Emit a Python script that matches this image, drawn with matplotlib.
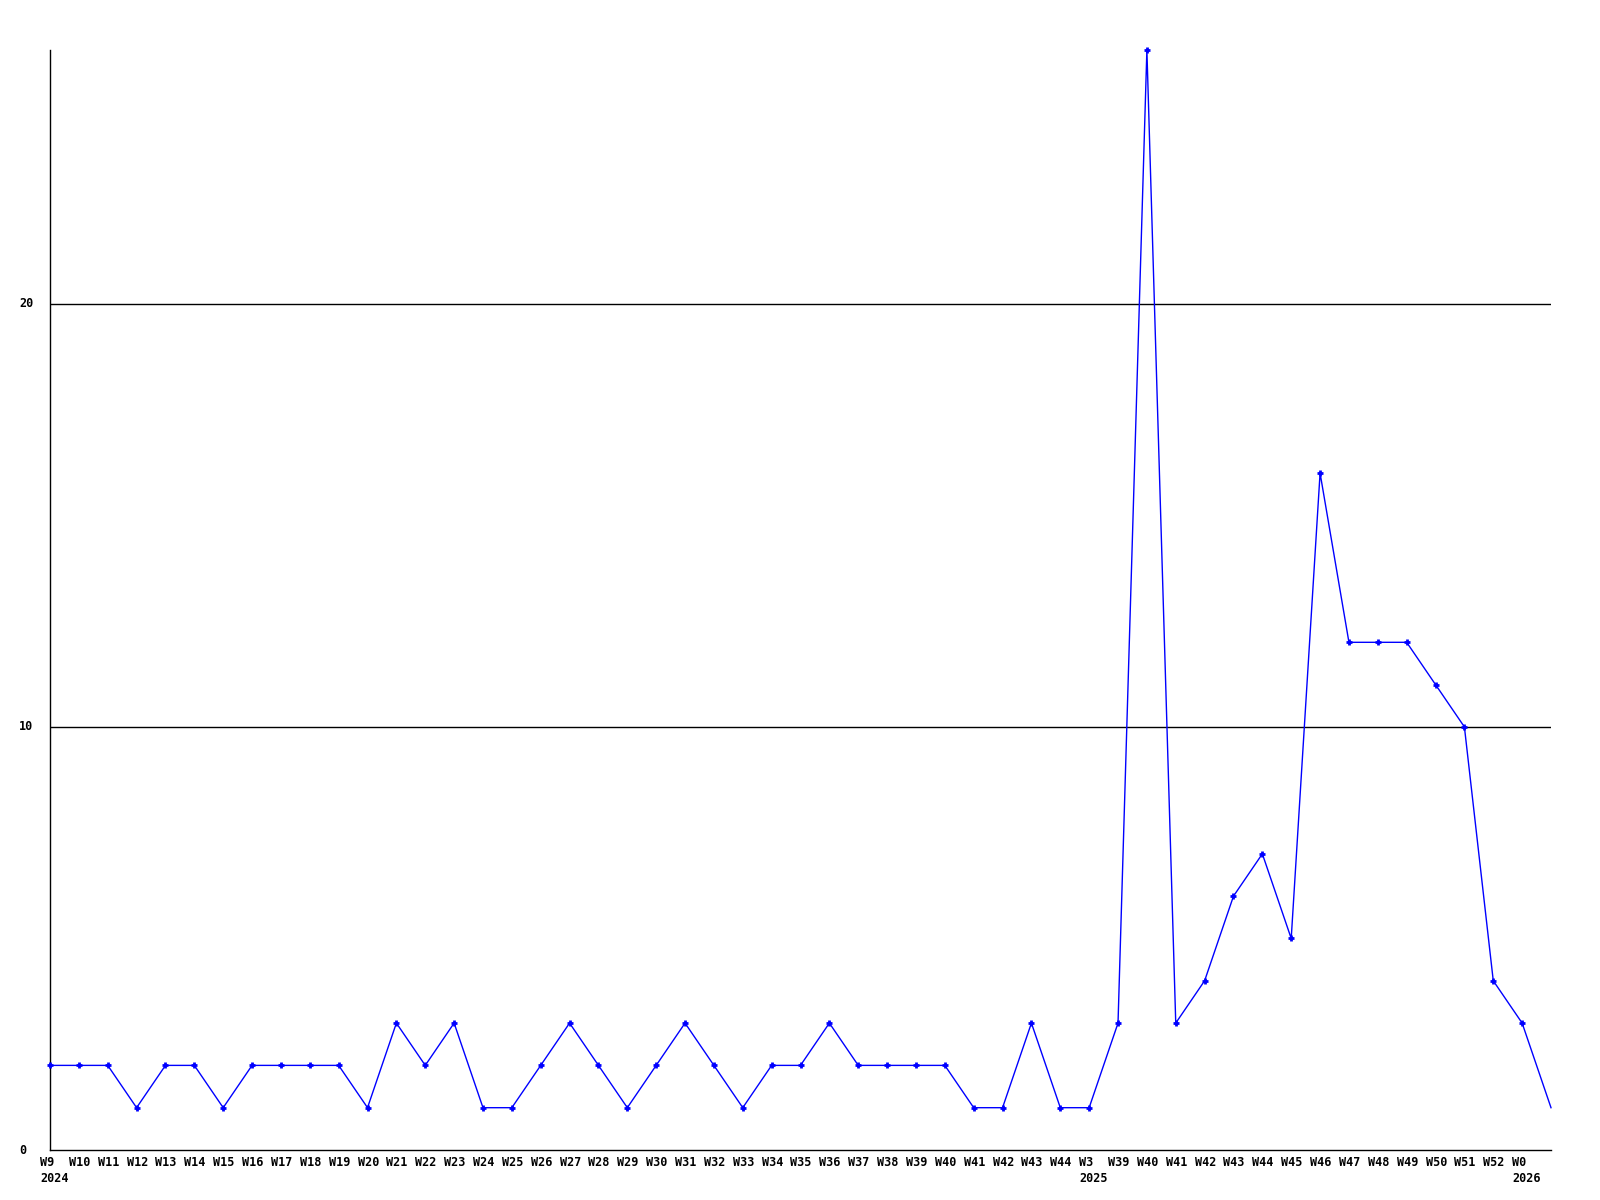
import matplotlib
matplotlib.use("Agg")
import matplotlib.pyplot as plt
import matplotlib.transforms as mtransforms

labels = ["W9", "W10", "W11", "W12", "W13", "W14", "W15", "W16", "W17", "W18",
          "W19", "W20", "W21", "W22", "W23", "W24", "W25", "W26", "W27", "W28",
          "W29", "W30", "W31", "W32", "W33", "W34", "W35", "W36", "W37", "W38",
          "W39", "W40", "W41", "W42", "W43", "W44", "W3", "W39", "W40", "W41",
          "W42", "W43", "W44", "W45", "W46", "W47", "W48", "W49", "W50", "W51",
          "W52", "W0", ""]
years = {0: "2024", 36: "2025", 51: "2026"}
values = [2, 2, 2, 1, 2, 2, 1, 2, 2, 2,
          2, 1, 3, 2, 3, 1, 1, 2, 3, 2,
          1, 2, 3, 2, 1, 2, 2, 3, 2, 2,
          2, 2, 1, 1, 3, 1, 1, 3, 26, 3,
          4, 6, 7, 5, 16, 12, 12, 12, 11, 10,
          4, 3, 1]
yticks = [0, 10, 20]

fig = plt.figure(figsize=(16, 12), dpi=100)
ax = fig.add_axes([50 / 1600, 1 - 1150 / 1200, 1501 / 1600, 1100 / 1200])
x = list(range(len(values)))
ax.set_xlim(0, len(values) - 1)
ax.set_ylim(0, 26)

for yv in yticks[1:]:
    ax.axhline(yv, color="black", lw=1, zorder=1)

ax.plot(x, values, color="#0000ff", lw=1, marker="+", ms=5, mew=2, zorder=3,
        clip_on=False, markevery=list(range(len(values) - 1)))

for s in ["top", "right"]:
    ax.spines[s].set_visible(False)
for s in ["left", "bottom"]:
    ax.spines[s].set_color("black")
    ax.spines[s].set_linewidth(1)

ax.set_xticks([])
ax.set_yticks([])

font = dict(family="DejaVu Sans Mono", fontweight="bold", fontsize=8.5, color="black")
xoff = mtransforms.ScaledTranslation(-10 / 100, 0, fig.dpi_scale_trans)
trans_x = mtransforms.blended_transform_factory(ax.transData, ax.transAxes) + xoff
for i, lab in enumerate(labels):
    if lab:
        ax.text(i, -12 / 1100, lab, transform=trans_x, ha="left", va="center", **font)
    if i in years:
        ax.text(i, -28 / 1100, years[i], transform=trans_x, ha="left", va="center", **font)

trans_y = mtransforms.blended_transform_factory(fig.transFigure, ax.transData)
for yv in yticks:
    ax.text(19 / 1600, yv, str(yv), transform=trans_y, ha="left", va="center", **font)

fig.savefig("out.png", dpi=100, facecolor="white")
